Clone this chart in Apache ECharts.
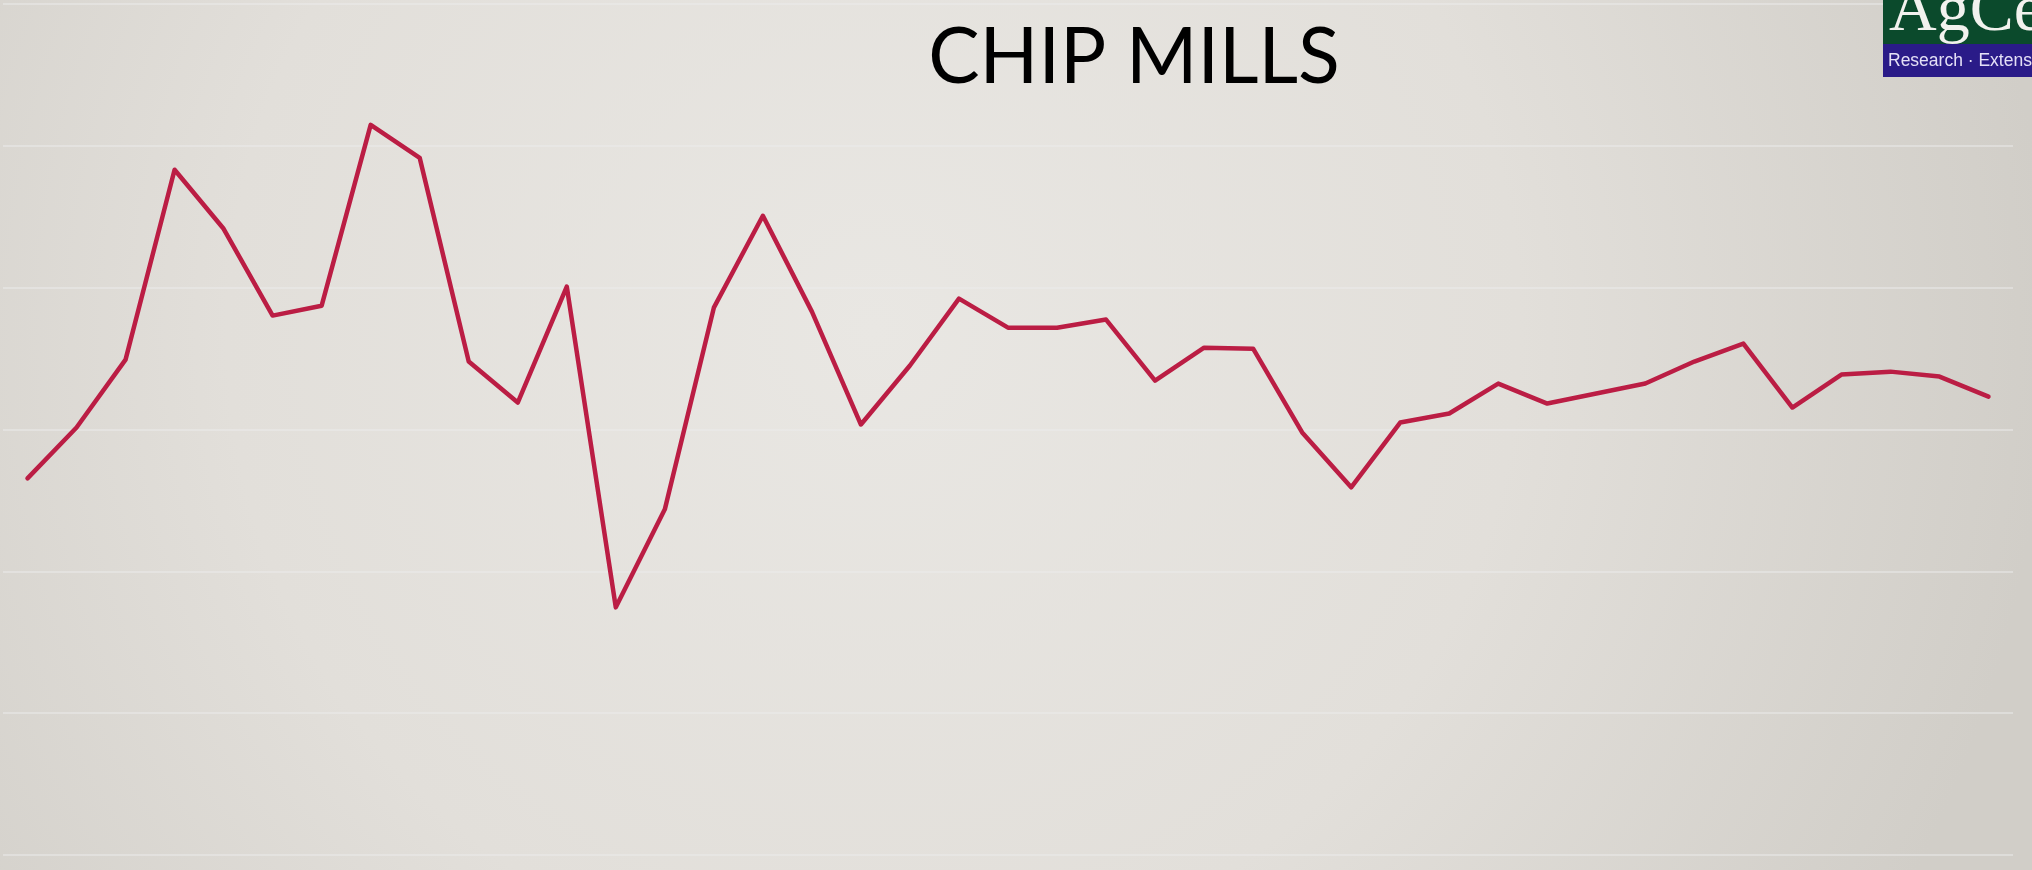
<!DOCTYPE html>
<html>
<head>
<meta charset="utf-8">
<script src="https://cdn.jsdelivr.net/npm/echarts@6/dist/echarts.min.js"></script>
<style>
html,body{margin:0;padding:0;width:2032px;height:870px;overflow:hidden;}
#chart{width:2032px;height:870px;}
</style>
</head>
<body>
<div id="chart"></div>
<script>
// Point index labels (no axis labels are shown in the reference)
var categories = ['1','2','3','4','5','6','7','8','9','10','11','12','13','14','15','16','17','18','19','20','21','22','23','24','25','26','27','28','29','30','31','32','33','34','35','36','37','38','39','40','41'];
// Chip mill series (relative units)
var chipMills = [265.5,301.4,349.3,483.1,441.5,380.3,387.3,514.8,491.5,347.9,319,400.7,174.6,243.7,385.9,450.7,383.1,303.5,345.1,392.3,371.8,371.8,377.5,334.5,357.7,357,297.9,259.2,304.9,311.3,332.4,318.3,325.4,332.4,347.9,360.6,315.5,338.7,340.8,337.3,323.2];
var yTicks = {min: 0, max: 600, interval: 100};
var titleText = 'CHIP MILLS';
var logoTop = 'AgCe';
var logoBottom = 'Research · Extension';

var chart = echarts.init(document.getElementById('chart'));
chart.setOption({
  animation: false,
  backgroundColor: {
    type: 'radial', x: 0.43, y: 0.38, r: 1.35,
    colorStops: [{offset: 0, color: '#e9e7e3'}, {offset: 0.55, color: '#e2dfda'}, {offset: 1, color: '#d1cec8'}]
  },
  title: {
    text: titleText, left: 1129, top: 15, textAlign: 'center',
    textStyle: {fontFamily: 'Lato', fontWeight: 'normal', fontSize: 77, color: '#000'}
  },
  grid: {left: 3, right: 19, top: 4, bottom: 15},
  xAxis: {
    type: 'category', data: categories, boundaryGap: true,
    axisLine: {show: false}, axisTick: {show: false}, axisLabel: {show: false}, splitLine: {show: false}
  },
  yAxis: {
    type: 'value', min: yTicks.min, max: yTicks.max, interval: yTicks.interval,
    axisLine: {show: false}, axisTick: {show: false}, axisLabel: {show: false},
    splitLine: {show: true, lineStyle: {color: 'rgba(236,236,236,0.5)', width: 2}}
  },
  series: [{
    type: 'line', data: chipMills, symbol: 'none',
    lineStyle: {color: '#bb1d44', width: 4.5, join: 'round', cap: 'round'}
  }],
  graphic: [
    {type: 'rect', shape: {x: 1883, y: 0, width: 149, height: 44}, style: {fill: '#0b4a2c'}, z: 10},
    {type: 'text', x: 1889, y: 13, z: 11, style: {text: logoTop, fill: '#f2f2ee', font: '66px "Liberation Serif"', verticalAlign: 'middle', align: 'left'}},
    {type: 'rect', shape: {x: 1883, y: 44, width: 149, height: 33}, style: {fill: '#2a1b88'}, z: 12},
    {type: 'text', x: 1888, y: 61, z: 13, style: {text: logoBottom, fill: '#e4e0f6', font: '17.5px "Liberation Sans"', verticalAlign: 'middle', align: 'left'}}
  ]
});
</script>
</body>
</html>
